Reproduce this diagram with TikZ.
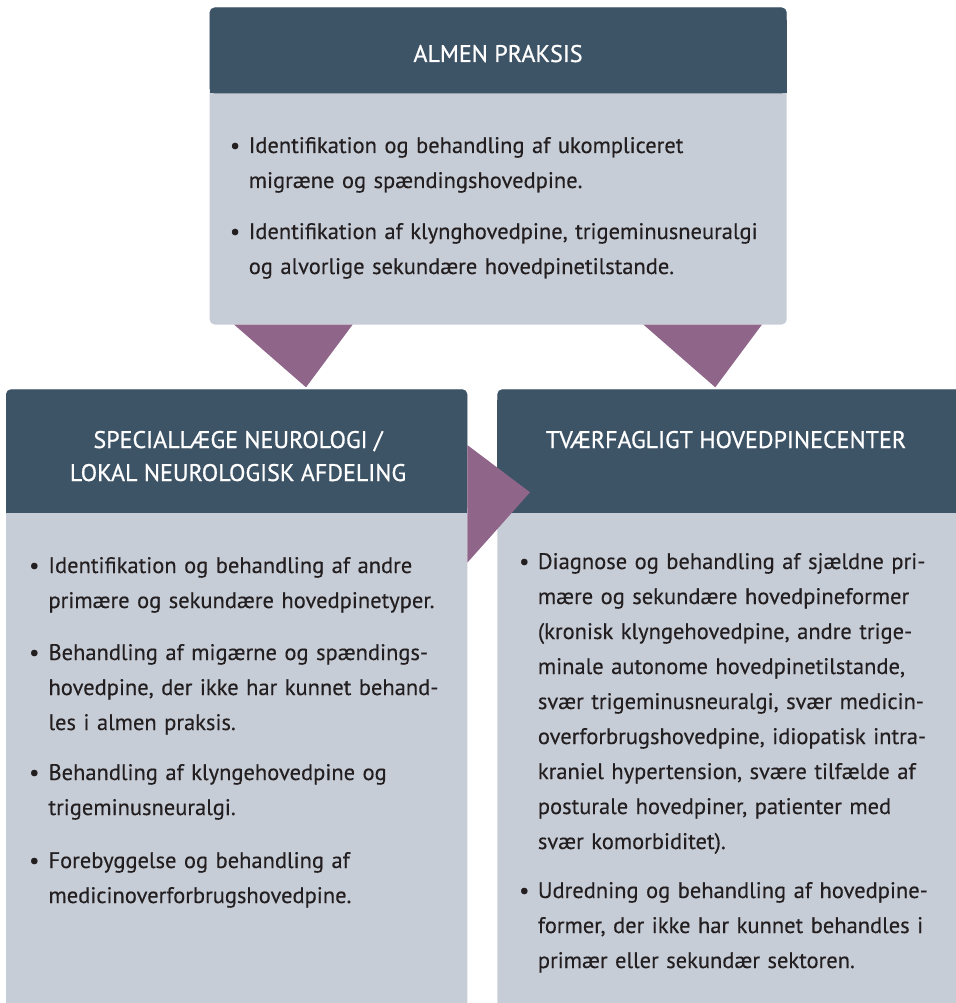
\documentclass[tikz,border=0pt]{standalone}
\usepackage{fontspec}
\setmainfont{PT Sans}
\newfontfamily\hdrfont[FakeBold=0.8]{PT Sans}
\newfontfamily\bodyfont[FakeBold=0.3]{PT Sans}
\definecolor{hdr}{HTML}{3D5366}
\definecolor{bdy}{HTML}{C7CDD7}
\definecolor{arr}{HTML}{8F668A}
\definecolor{txt}{HTML}{231F20}
\tikzset{
  hdrtext/.style={text=white,inner sep=0pt,font=\hdrfont\fontsize{24}{33}\selectfont,align=center,anchor=base},
  bullet/.style={text=txt,inner sep=0pt,anchor=base west,font=\bodyfont\fontsize{22.5}{35}\selectfont},
  itemtext/.style={text=txt,inner sep=0pt,anchor=base west,align=left,text width=#1,font=\bodyfont\fontsize{22.5}{35}\selectfont},
  arrowshape/.style={fill=arr},
}
\begin{document}
\begin{tikzpicture}[x=1pt,y=-1pt]
\useasboundingbox (0,0) rectangle (955,1003);
% ---------- top box
\fill[bdy,rounded corners=5pt] (209.6,7.5) rectangle (786.7,324.5);
\fill[hdr,rounded corners=5pt] (209.6,7.5) rectangle (786.7,93.5);
\fill[hdr] (209.6,20) rectangle (786.7,93.5);
% ---------- left box
\fill[bdy,rounded corners=5pt] (6,389.3) rectangle (467.3,1015);
\fill[hdr,rounded corners=5pt] (6,389.3) rectangle (467.3,512.7);
\fill[hdr] (6,400) rectangle (467.3,512.7);
% ---------- right box
\fill[bdy,rounded corners=5pt] (497.3,389.3) rectangle (970,1015);
\fill[hdr,rounded corners=5pt] (497.3,389.3) rectangle (970,512.7);
\fill[hdr] (497.3,400) rectangle (970,512.7);
% ---------- arrows
\coordinate (a1) at (234,324.5); \coordinate (a2) at (352.7,324.5); \coordinate (a3) at (306,387.3);
\coordinate (b1) at (643.3,324.5); \coordinate (b2) at (762,324.5); \coordinate (b3) at (715.3,387.3);
\coordinate (c1) at (467.3,445); \coordinate (c2) at (530,492.3); \coordinate (c3) at (467.3,562.7);
\fill[arrowshape] (a1) -- (a2) -- (a3) -- cycle;
\fill[arrowshape] (b1) -- (b2) -- (b3) -- cycle;
\fill[arrowshape] (c1) -- (c2) -- (c3) -- cycle;
% ---------- headers
\node[hdrtext] (h1) at (498,62) {ALMEN PRAKSIS};
\node[hdrtext] (h2) at (238,481) {SPECIALLÆGE NEUROLOGI /\\LOKAL NEUROLOGISK AFDELING};
\node[hdrtext] (h3) at (726,448) {TVÆRFAGLIGT HOVEDPINECENTER};
% ---------- top items
\node[bullet] (t1b) at (229.8,153) {•};
\node[itemtext=540pt] (t1) at (248.6,153) {Identifikation og behandling af ukompliceret\\migræne og spændingshovedpine.};
\node[bullet] (t2b) at (229.8,239) {•};
\node[itemtext=540pt] (t2) at (248.6,239) {Identifikation af klynghovedpine, trigeminusneuralgi\\og alvorlige sekundære hovedpinetilstande.};
% ---------- left items
\node[bullet] (l1b) at (29,573) {•};
\node[itemtext=415pt] (l1) at (48.3,573) {Identifikation og behandling af andre\\primære og sekundære hovedpinetyper.};
\node[bullet] (l2b) at (29,660) {•};
\node[itemtext=415pt] (l2) at (48.3,660) {Behandling af migærne og spændings-\\hovedpine, der ikke har kunnet behand-\\les i almen praksis.};
\node[bullet] (l3b) at (29,780) {•};
\node[itemtext=415pt] (l3) at (48.3,780) {Behandling af klyngehovedpine og\\trigeminusneuralgi.};
\node[bullet] (l4b) at (29,868) {•};
\node[itemtext=415pt] (l4) at (48.3,868) {Forebyggelse og behandling af\\medicinoverforbrugshovedpine.};
% ---------- right items
\node[bullet] (r1b) at (519,569) {•};
\node[itemtext=415pt] (r1) at (537.7,569) {Diagnose og behandling af sjældne pri-\\mære og sekundære hovedpineformer\\(kronisk klyngehovedpine, andre trige-\\minale autonome hovedpinetilstande,\\svær trigeminusneuralgi, svær medicin-\\overforbrugshovedpine, idiopatisk intra-\\kraniel hypertension, svære tilfælde af\\posturale hovedpiner, patienter med\\svær komorbiditet).};
\node[bullet] (r2b) at (519,898) {•};
\node[itemtext=415pt] (r2) at (537.7,898) {Udredning og behandling af hovedpine-\\former, der ikke har kunnet behandles i\\primær eller sekundær sektoren.};
\end{tikzpicture}
\end{document}
